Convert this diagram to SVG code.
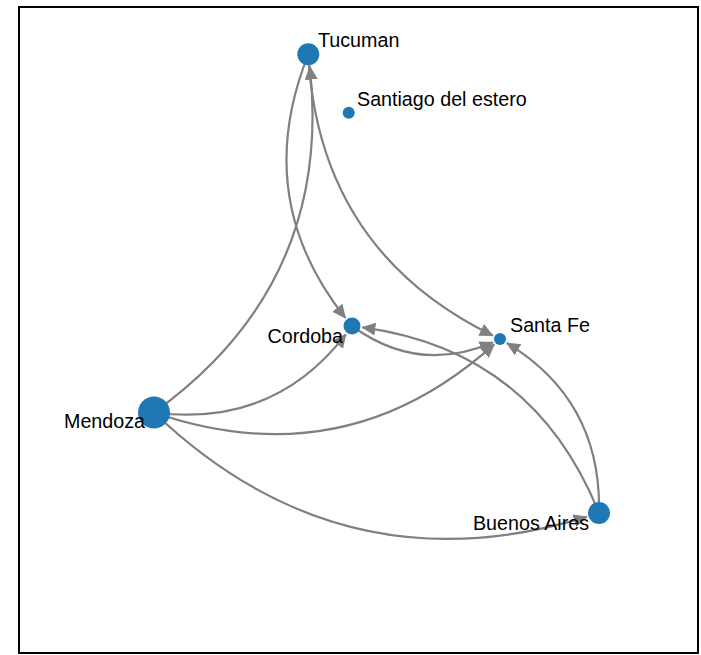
<svg xmlns="http://www.w3.org/2000/svg" width="701" height="655" viewBox="0 0 701 655">
<style>
.edge{fill:none;stroke:#808080;stroke-width:2.2;marker-end:url(#arrow)}
.node{fill:#1f78b4}
.lbl{font-family:"Liberation Sans",Arial,sans-serif;font-size:19.7px;fill:#000}
.end{text-anchor:end}
</style>
<defs>
<marker id="arrow" markerUnits="userSpaceOnUse" markerWidth="16" markerHeight="14" viewBox="0 0 16 14" refX="13" refY="6.5" orient="auto">
<path d="M0,0 L14,6.5 L0,13 Z" fill="#808080"/>
</marker>
</defs>
<rect x="19" y="7" width="679" height="646" fill="#fff" stroke="#000" stroke-width="2"/>
<g id="edges">
<path class="edge" d="M154,412.5 Q333.5,283.3 309.8,66.6"/>
<path class="edge" d="M154,412.5 Q273.7,428 345.8,334.4"/>
<path class="edge" d="M154,412.5 Q345.3,478.3 494.1,344.4"/>
<path class="edge" d="M154,412.5 Q341.7,591.8 586.7,516.9"/>
<path class="edge" d="M308.3,54.3 Q250.6,198.4 345.4,317.9"/>
<path class="edge" d="M308.3,54.3 Q318.5,250.2 492.8,335.6"/>
<path class="edge" d="M352,326 Q418.9,374.6 492.8,342.3"/>
<path class="edge" d="M599,513 Q533.6,350.3 362.4,327.3"/>
<path class="edge" d="M599,513 Q601.6,400.3 506.9,343"/>
</g>
<g id="node-tucuman"><circle class="node" cx="308.3" cy="54.3" r="11"/><text class="lbl" x="318" y="47">Tucuman</text></g>
<g id="node-santiago"><circle class="node" cx="348.7" cy="112.7" r="6"/><text class="lbl" x="357" y="106">Santiago del estero</text></g>
<g id="node-cordoba"><circle class="node" cx="352" cy="326" r="8.5"/><text class="lbl end" x="343" y="343">Cordoba</text></g>
<g id="node-santafe"><circle class="node" cx="500" cy="339" r="6"/><text class="lbl" x="510" y="332">Santa Fe</text></g>
<g id="node-mendoza"><circle class="node" cx="154" cy="412.5" r="16"/><text class="lbl end" x="145" y="428">Mendoza</text></g>
<g id="node-buenosaires"><circle class="node" cx="599" cy="513" r="11"/><text class="lbl end" x="589" y="530">Buenos Aires</text></g>
</svg>
